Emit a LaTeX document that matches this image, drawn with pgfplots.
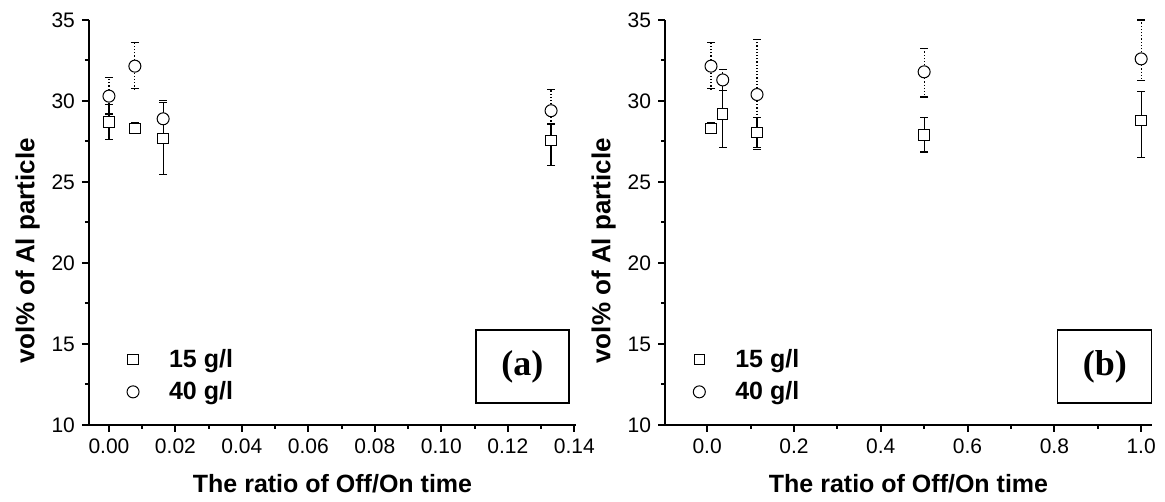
\documentclass[border=0pt]{standalone}
\usepackage{fontspec}
\setmainfont{Liberation Sans}
\newfontfamily\serifb{Liberation Serif}
\usepackage{pgfplots}
\pgfplotsset{compat=1.18}

% x  y  plus  minus
\pgfplotstableread{
x y ep em
0      28.7  1.1  1.1
0.0078 28.3  0.35 0.3
0.0163 27.7  2.2  2.25
0.133  27.55 1.0  1.55
}\leftsq
\pgfplotstableread{
x y ep em
0      30.3  1.13 1.1
0.0078 32.15 1.45 1.4
0.0163 28.9  1.15 1.15
0.133  29.4  1.3  0.8
}\leftci
\pgfplotstableread{
x y ep em
0.009 28.3  0.35 0.3
0.036 29.2  2.05 2.05
0.115 28.05 0.95 0.9
0.5   27.9  1.1  1.05
1.0   28.8  1.8  2.27
}\rightsq
\pgfplotstableread{
x y ep em
0.009 32.15 1.45 1.4
0.036 31.3  0.65 0.65
0.115 30.4  3.4  3.4
0.5   31.8  1.45 1.55
1.0   32.6  2.4  1.35
}\rightci

\pgfplotsset{
  panel/.style={
    scale only axis,
    width=243.5pt, height=202.5pt,
    axis x line*=bottom, axis y line*=left,
    axis line style={line width=1.3pt},
    tick align=outside,
    major tick length=3.5pt, minor tick length=2pt,
    every tick/.style={line width=1pt, black},
    minor tick num=1,
    ymin=10, ymax=35, ytick={10,15,...,35},
    tick label style={font=\fontsize{10.5}{10.5}\selectfont},
    /pgf/number format/assume math mode=true,
    xlabel={The ratio of Off/On time},
    ylabel={vol\% of Al particle},
    xlabel style={font=\fontsize{12.5}{12.5}\selectfont\bfseries, yshift=-3.5pt},
    ylabel style={font=\fontsize{13}{13}\selectfont\bfseries,
      at={(ticklabel cs:0.43)}, yshift=-1pt},
    legend style={draw=none, fill=none, font=\fontsize{12.5}{14}\selectfont\bfseries,
      at={(0.065,0.035)}, anchor=south west, row sep=1.5pt,
      /tikz/every odd column/.append style={column sep=13pt}},
    legend cell align=left,
  },
  sq/.style={only marks, mark=square*, mark size=2.6pt, black, line width=0.5pt,
    mark options={fill=white, solid},
    error bars/.cd, y dir=both, y explicit,
    error bar style={line width=0.6pt, solid},
    error mark options={rotate=90, mark size=2pt, line width=0.6pt, solid}},
  ci/.style={only marks, mark=*, mark size=3pt, black, line width=0.5pt,
    mark options={fill=white, solid},
    error bars/.cd, y dir=both, y explicit,
    error bar style={line width=0.6pt, densely dotted},
    error mark options={rotate=90, mark size=2pt, line width=0.6pt, solid}},
}

\begin{document}
\begin{tikzpicture}
\begin{axis}[panel,
  xmin=-0.006, xmax=0.1405,
  xtick={0,0.02,...,0.14},
  xticklabel style={/pgf/number format/.cd, fixed, fixed zerofill, precision=2},
]
\addplot+[sq] table[x=x, y=y, y error plus=ep, y error minus=em] {\leftsq};
\addplot+[ci] table[x=x, y=y, y error plus=ep, y error minus=em] {\leftci};
\legend{15 g/l, 40 g/l}
\node[draw, line width=0.7pt, minimum width=46.5pt, minimum height=36.5pt,
  font=\fontsize{18}{18}\selectfont\serifb\bfseries] at (rel axis cs:0.89,0.144) {(a)};
\end{axis}
\begin{axis}[panel, xshift=288pt,
  xmin=-0.097, xmax=1.025,
  xtick={0,0.2,...,1.0},
  xticklabel style={/pgf/number format/.cd, fixed, fixed zerofill, precision=1},
  legend style={at={(0.045,0.035)}},
]
\addplot+[sq] table[x=x, y=y, y error plus=ep, y error minus=em] {\rightsq};
\addplot+[ci] table[x=x, y=y, y error plus=ep, y error minus=em] {\rightci};
\legend{15 g/l, 40 g/l}
\node[draw, line width=0.7pt, minimum width=47pt, minimum height=36.5pt,
  font=\fontsize{18}{18}\selectfont\serifb\bfseries] at (rel axis cs:0.903,0.144) {(b)};
\end{axis}
\pgfresetboundingbox
\path (-44.5pt,-38.5pt) rectangle (538pt,212.5pt);
\end{tikzpicture}
\end{document}
